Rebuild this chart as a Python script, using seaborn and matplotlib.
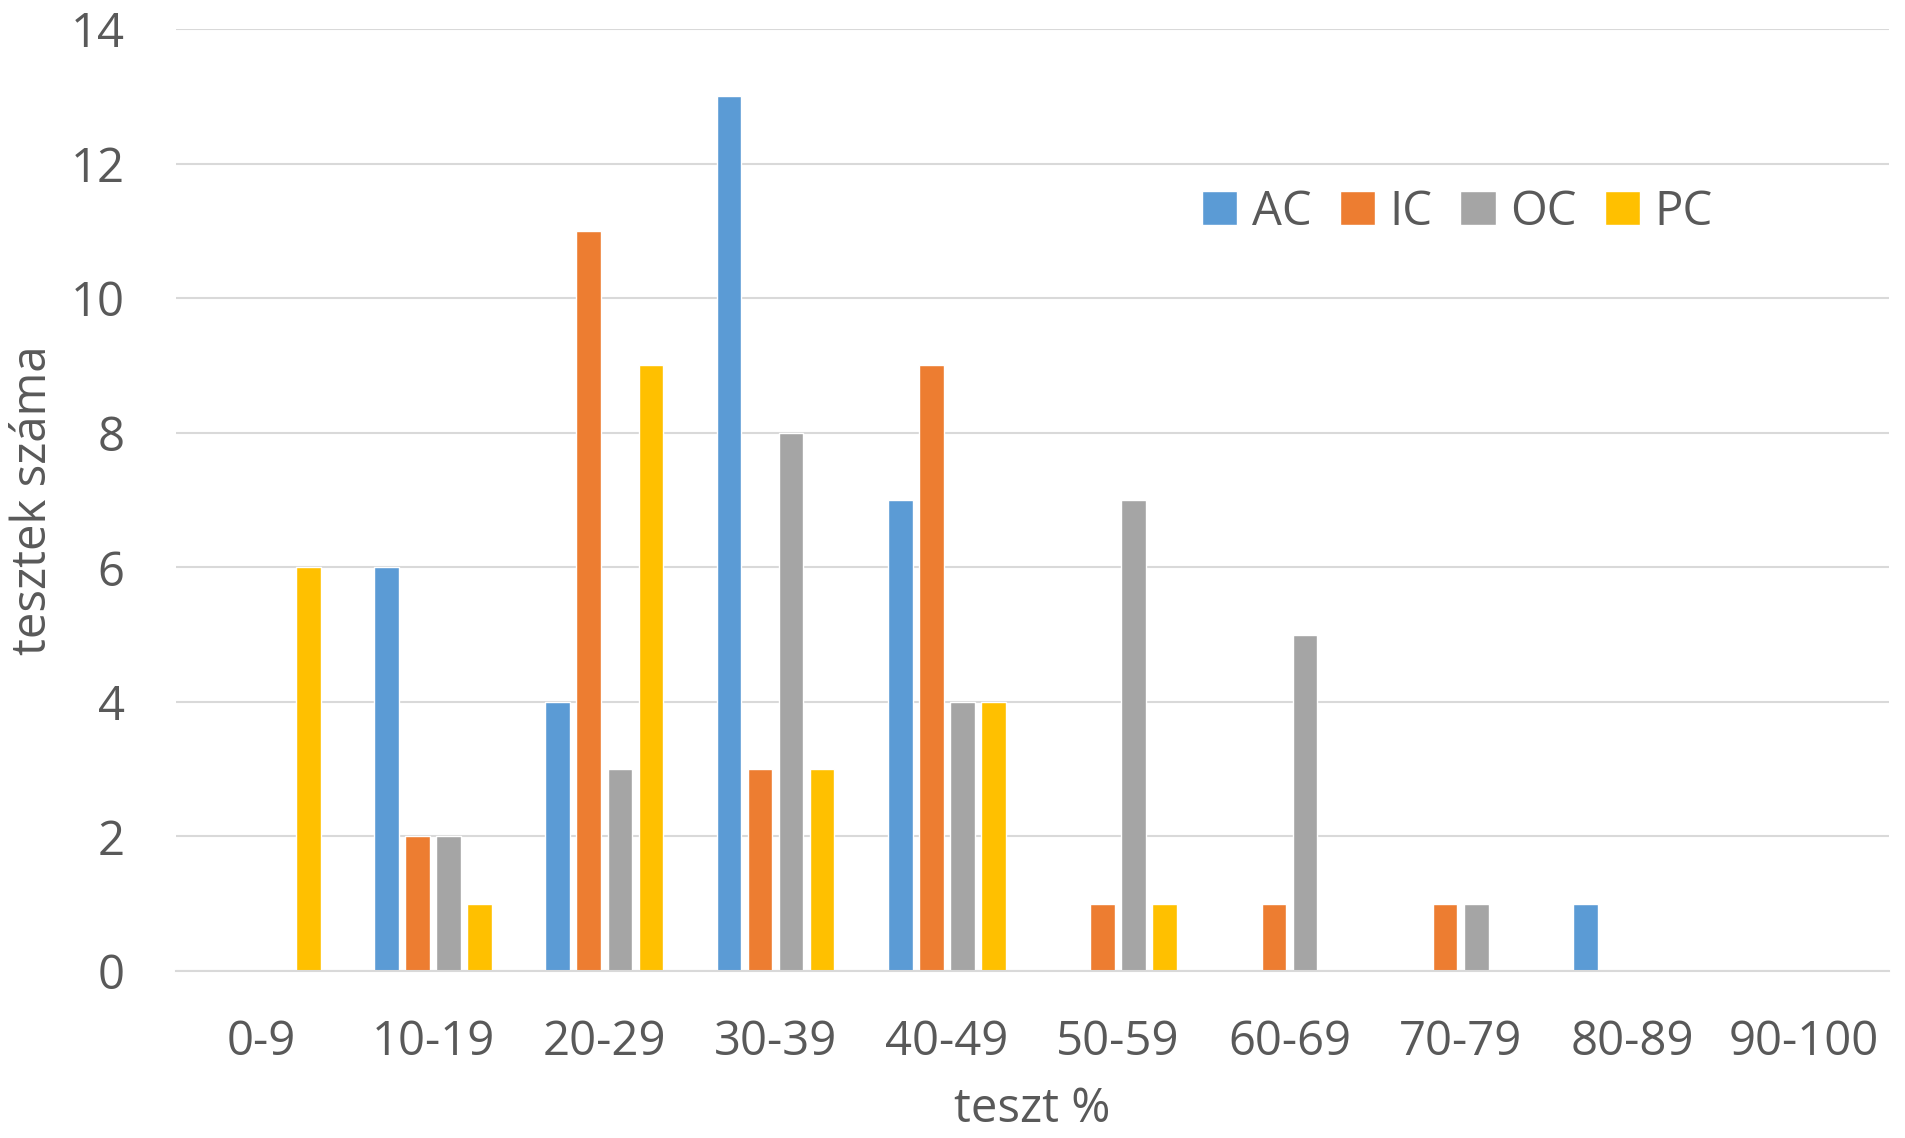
import numpy as np
import pandas as pd
import matplotlib
matplotlib.use("Agg")
import matplotlib.pyplot as plt
import seaborn as sns

# data
categories = ["0-9", "10-19", "20-29", "30-39", "40-49",
              "50-59", "60-69", "70-79", "80-89", "90-100"]
ac = [0, 6, 4, 13, 7, 0, 0, 0, 1, 0]
ic = [0, 2, 11, 3, 9, 1, 1, 1, 0, 0]
oc = [0, 2, 3, 8, 4, 7, 5, 1, 0, 0]
pc = [6, 1, 9, 3, 4, 1, 0, 0, 0, 0]
series = ["AC", "IC", "OC", "PC"]
colors = ["#5B9BD5", "#ED7D31", "#A5A5A5", "#FFC000"]

df = pd.DataFrame({"kat": categories, "AC": ac, "IC": ic, "OC": oc, "PC": pc})
df = df.melt(id_vars="kat", var_name="sorozat", value_name="db")

sns.set_style("white")
plt.rcParams["font.family"] = ["Open Sans", "DejaVu Sans"]
txt = "#595959"
fs = 34

fig = plt.figure(figsize=(19.05, 11.38), dpi=100)
ax = fig.add_axes([0.0924, 0.1467, 0.8992, 0.8278])

sns.barplot(data=df, x="kat", y="db", hue="sorozat", order=categories,
            hue_order=series, palette=colors, width=0.725, gap=0.21,
            saturation=1, ax=ax)

ax.set_ylim(0, 14)
ax.set_xlim(-0.5, 9.5)
ax.set_yticks(np.arange(0, 15, 2))
ax.grid(axis="y", color="#D9D9D9", linewidth=1.5)
ax.set_axisbelow(True)
for s in ["top", "right", "left"]:
    ax.spines[s].set_visible(False)
ax.spines["bottom"].set_color("#D9D9D9")
ax.spines["bottom"].set_linewidth(1.5)
ax.tick_params(axis="both", length=0, labelsize=fs, colors=txt)
ax.tick_params(axis="x", pad=34)
ax.tick_params(axis="y", pad=37)

ax.set_xlabel("teszt %", fontsize=fs, color=txt, labelpad=14)
ax.set_ylabel("tesztek száma", fontsize=fs, color=txt, labelpad=10)

ax.legend(loc="center", bbox_to_anchor=(0.748, 0.806), ncol=4, frameon=False,
          fontsize=fs, labelcolor=txt, handlelength=0.75, handleheight=0.75,
          handletextpad=0.3, columnspacing=0.6)

fig.savefig("out.png", dpi=100)
